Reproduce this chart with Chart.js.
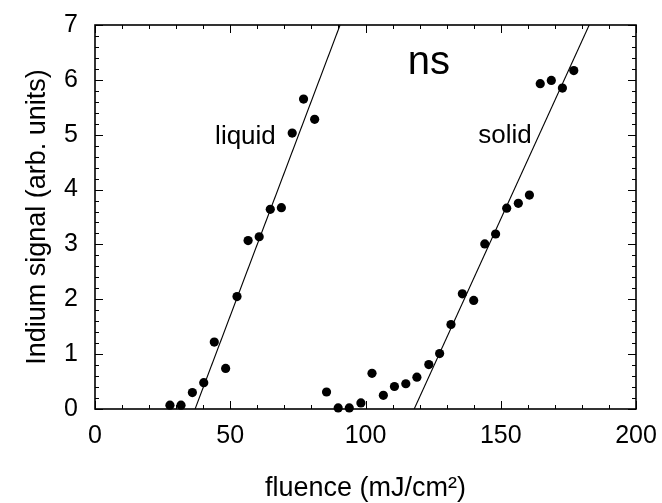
<!DOCTYPE html>
<html>
<head>
<meta charset="utf-8">
<script src="https://cdn.jsdelivr.net/npm/chart.js@4/dist/chart.umd.min.js"></script>
<style>
html,body{margin:0;padding:0;background:#fff;}
#wrap{width:662px;height:503px;}
</style>
</head>
<body>
<div id="wrap"><canvas id="c" width="662" height="503"></canvas></div>
<script>
const liquidX = [27.7,31.8,36.0,40.2,44.1,48.3,52.5,56.6,60.7,64.8,68.9,72.9,77.1,81.2];
const liquidY = [0.07,0.07,0.30,0.48,1.22,0.74,2.05,3.07,3.14,3.64,3.67,5.03,5.65,5.28];
const solidX = [85.6,89.9,94.0,98.3,102.4,106.6,110.7,114.9,119.0,123.4,127.4,131.6,135.8,140.0,144.1,148.1,152.2,156.5,160.6,164.6,168.7,172.8,177.0];
const solidY = [0.31,0.02,0.02,0.11,0.65,0.25,0.41,0.46,0.58,0.81,1.01,1.54,2.10,1.98,3.01,3.19,3.66,3.75,3.90,5.93,5.99,5.85,6.17];
const liquidFitX = [37.0, 90.6];
const liquidFitY = [0, 7];
const solidFitX = [118.0, 182.7];
const solidFitY = [0, 7];
const xTicks = [0, 50, 100, 150, 200];
const yTicks = [0, 1, 2, 3, 4, 5, 6, 7];
const annotations = [
  {text: 'liquid', x: 44.4, y: 4.825, size: 26},
  {text: 'solid', x: 141.7, y: 4.84, size: 26},
  {text: 'ns', x: 115.6, y: 6.10, size: 40}
];

const pts = (xs, ys) => xs.map((x, i) => ({x: x, y: ys[i]}));
const FONT = "'Liberation Sans', Arial, Helvetica, sans-serif";

const framePlugin = {
  id: 'frame',
  beforeDatasetsDraw(chart) {
    const {ctx, chartArea: a, scales: {x, y}} = chart;
    ctx.save();
    ctx.strokeStyle = '#000';
    ctx.lineWidth = 1;
    for (let v = 0; v <= 200; v += 10) {
      const px = Math.round(x.getPixelForValue(v)) + 0.5;
      const len = (v % 50 === 0) ? 8 : 4;
      ctx.beginPath();
      ctx.moveTo(px, a.bottom); ctx.lineTo(px, a.bottom - len);
      ctx.moveTo(px, a.top); ctx.lineTo(px, a.top + len);
      ctx.stroke();
    }
    for (let k = 0; k <= 35; k++) {
      const v = k * 0.2;
      const py = Math.round(y.getPixelForValue(v)) + 0.5;
      const len = (k % 5 === 0) ? 8 : 4;
      ctx.beginPath();
      ctx.moveTo(a.left, py); ctx.lineTo(a.left + len, py);
      ctx.moveTo(a.right, py); ctx.lineTo(a.right - len, py);
      ctx.stroke();
    }
    ctx.lineWidth = 1.6;
    ctx.strokeRect(a.left, a.top, a.right - a.left, a.bottom - a.top);
    ctx.fillStyle = '#000';
    ctx.textBaseline = 'alphabetic';
    ctx.textAlign = 'left';
    annotations.forEach(t => {
      ctx.font = t.size + 'px ' + FONT;
      ctx.fillText(t.text, x.getPixelForValue(t.x), y.getPixelForValue(t.y));
    });
    ctx.restore();
  }
};

new Chart(document.getElementById('c'), {
  type: 'scatter',
  data: {
    datasets: [
      {label: 'liquid', data: pts(liquidX, liquidY), backgroundColor: '#000', borderColor: '#000', pointRadius: 4.6, pointBorderWidth: 0, clip: false},
      {label: 'solid', data: pts(solidX, solidY), backgroundColor: '#000', borderColor: '#000', pointRadius: 4.6, pointBorderWidth: 0, clip: false},
      {label: 'liquid fit', data: pts(liquidFitX, liquidFitY), showLine: true, borderColor: '#000', borderWidth: 1.1, pointRadius: 0},
      {label: 'solid fit', data: pts(solidFitX, solidFitY), showLine: true, borderColor: '#000', borderWidth: 1.1, pointRadius: 0}
    ]
  },
  options: {
    responsive: false,
    animation: false,
    devicePixelRatio: 1,
    layout: {padding: {left: 0, right: 26, top: 25, bottom: 0}},
    plugins: {legend: {display: false}, tooltip: {enabled: false}},
    scales: {
      x: {
        type: 'linear', min: 0, max: 200,
        afterBuildTicks: s => { s.ticks = xTicks.map(v => ({value: v})); },
        afterFit: s => { s.height = 94; s.paddingLeft = 0; s.paddingRight = 0; },
        grid: {display: false, drawTicks: false},
        border: {display: false},
        ticks: {color: '#000', font: {family: FONT, size: 25, lineHeight: 1.2}, padding: 12, maxRotation: 0, autoSkip: false},
        title: {display: true, text: 'fluence (mJ/cm²)', color: '#000', font: {family: FONT, size: 27, lineHeight: 1}, padding: {top: 0, bottom: 1}}
      },
      y: {
        type: 'linear', min: 0, max: 7,
        afterBuildTicks: s => { s.ticks = yTicks.map(v => ({value: v})); },
        afterFit: s => { s.width = 95; s.paddingTop = 0; s.paddingBottom = 0; },
        grid: {display: false, drawTicks: false},
        border: {display: false},
        ticks: {color: '#000', font: {family: FONT, size: 25}, padding: 17, autoSkip: false},
        title: {display: true, text: 'Indium signal (arb. units)', color: '#000', font: {family: FONT, size: 27, lineHeight: 1.2}, padding: {top: 21, bottom: 0}}
      }
    }
  },
  plugins: [framePlugin]
});
</script>
</body>
</html>
